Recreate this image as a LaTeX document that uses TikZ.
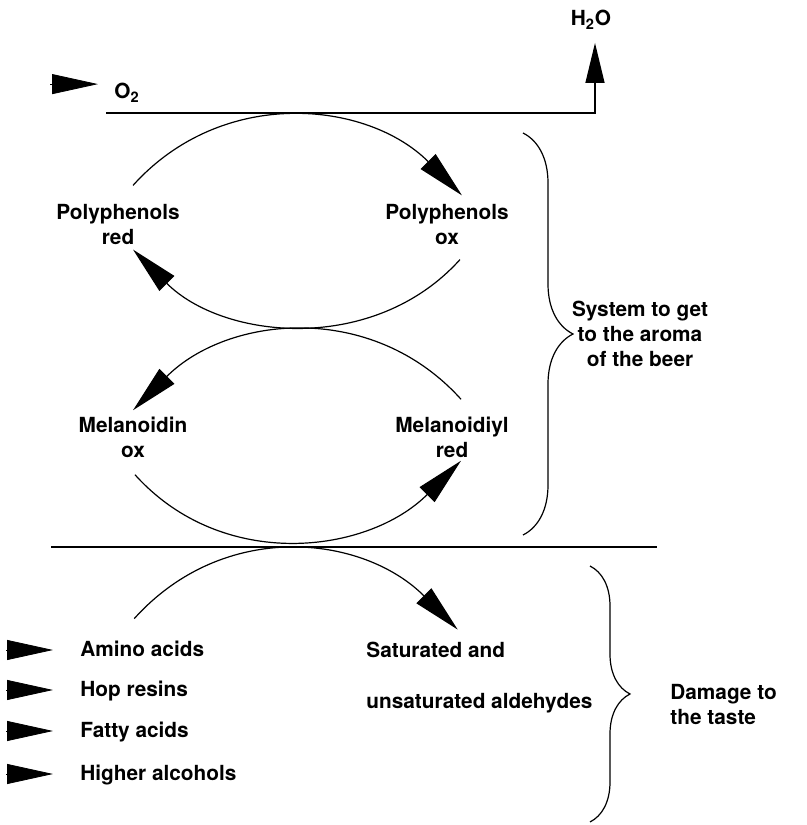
\documentclass[tikz,border=0pt]{standalone}
\usepackage{fontspec}
\setmainfont{TeX Gyre Heros}
\usetikzlibrary{arrows.meta, decorations.pathreplacing}

\tikzset{
  lbl/.style={font=\bfseries\fontsize{10.4}{12.5}\selectfont, align=center, inner sep=3pt},
  item/.style={lbl, anchor=west, text height=1.6ex, text depth=0.3ex},
  cyc/.style={line width=0.6pt, -{Triangle[length=24pt, width=10.5pt]}},
  head/.style={-{Triangle[length=23pt, width=10pt]}},
  brc/.style={decorate, decoration={brace, amplitude=#1}, line width=0.6pt},
}

\begin{document}
\begin{tikzpicture}[x=0.5pt, y=0.5pt]
  \useasboundingbox (0, 0) rectangle (807, 825);

  % oxygen in, water out
  \node[lbl, anchor=base west, inner sep=0pt] (o2) at (114, 726) {O\textsubscript{2}};
  \node[lbl] (h2o) at (591, 805) {H\textsubscript{2}O};
  \coordinate (tl) at (106, 712);
  \coordinate (tr) at (595, 712);
  \draw[head] ([xshift=-32pt, yshift=4.5pt]o2.west) -- ([xshift=-8pt, yshift=4.5pt]o2.west);
  \draw[line width=0.65pt, -{Triangle[length=20pt, width=9.5pt]}, shorten >=3.5pt]
    (tl) -- (tr) -- (tr |- h2o.south);

  % redox pairs
  \node[lbl] (prred) at (118, 600) {Polyphenols\\red};
  \node[lbl] (prox)  at (447, 600) {Polyphenols\\ox};
  \node[lbl] (mox)   at (133, 388) {Melanoidin\\ox};
  \node[lbl] (mred)  at (452, 388) {Melanoidiyl\\red};

  \draw[cyc] ([shift={(7.5pt, 6.5pt)}]prred.north) to[out=48, in=135, looseness=1.04]
    ([shift={(7.5pt, 1.5pt)}]prox.north);
  \draw[cyc] ([shift={(6.5pt, -4pt)}]prox.south) to[out=-132, in=-45, looseness=1.0]
    ([shift={(7.5pt, 1pt)}]prred.south);
  \draw[cyc] ([shift={(4.5pt, 5.5pt)}]mred.north) to[out=132, in=45, looseness=1.04]
    ([shift={(0pt, 0pt)}]mox.north);
  \draw[cyc] ([shift={(1pt, -5.5pt)}]mox.south) to[out=-48, in=-135, looseness=1.03]
    ([shift={(4.5pt, 1.5pt)}]mred.south);

  \draw[brc=25pt] (523, 692) -- (523, 290);
  \node[lbl] (sys) at (640, 491) {System to get\\to the aroma\\of the beer};

  \draw[line width=1.2pt] (51, 278) -- (657, 278);

  % substrates
  \node[item] (aa) at (74, 175) {Amino acids};
  \node[item] (hr) at (74, 135) {Hop resins};
  \node[item] (fa) at (74, 94)  {Fatty acids};
  \node[item] (ha) at (74, 51)  {Higher alcohols};
  \foreach \n in {aa, hr, fa, ha} {
    \draw[head] ([xshift=-34pt]\n.west) -- ([xshift=-10.5pt]\n.west);
  }

  \node[item] (sat)   at (360, 174) {Saturated and};
  \node[item] (unsat) at (360, 123) {unsaturated aldehydes};

  \draw[cyc] ([shift={(-4pt, 7.5pt)}]aa.north) to[out=48, in=135, looseness=1.06]
    ([shift={(11pt, 2.5pt)}]sat.north);

  \draw[brc=20pt] (590, 259) -- (590, 3);
  \node[lbl, align=left, anchor=west] (dmg) at (664, 120) {Damage to\\the taste};

\end{tikzpicture}
\end{document}
